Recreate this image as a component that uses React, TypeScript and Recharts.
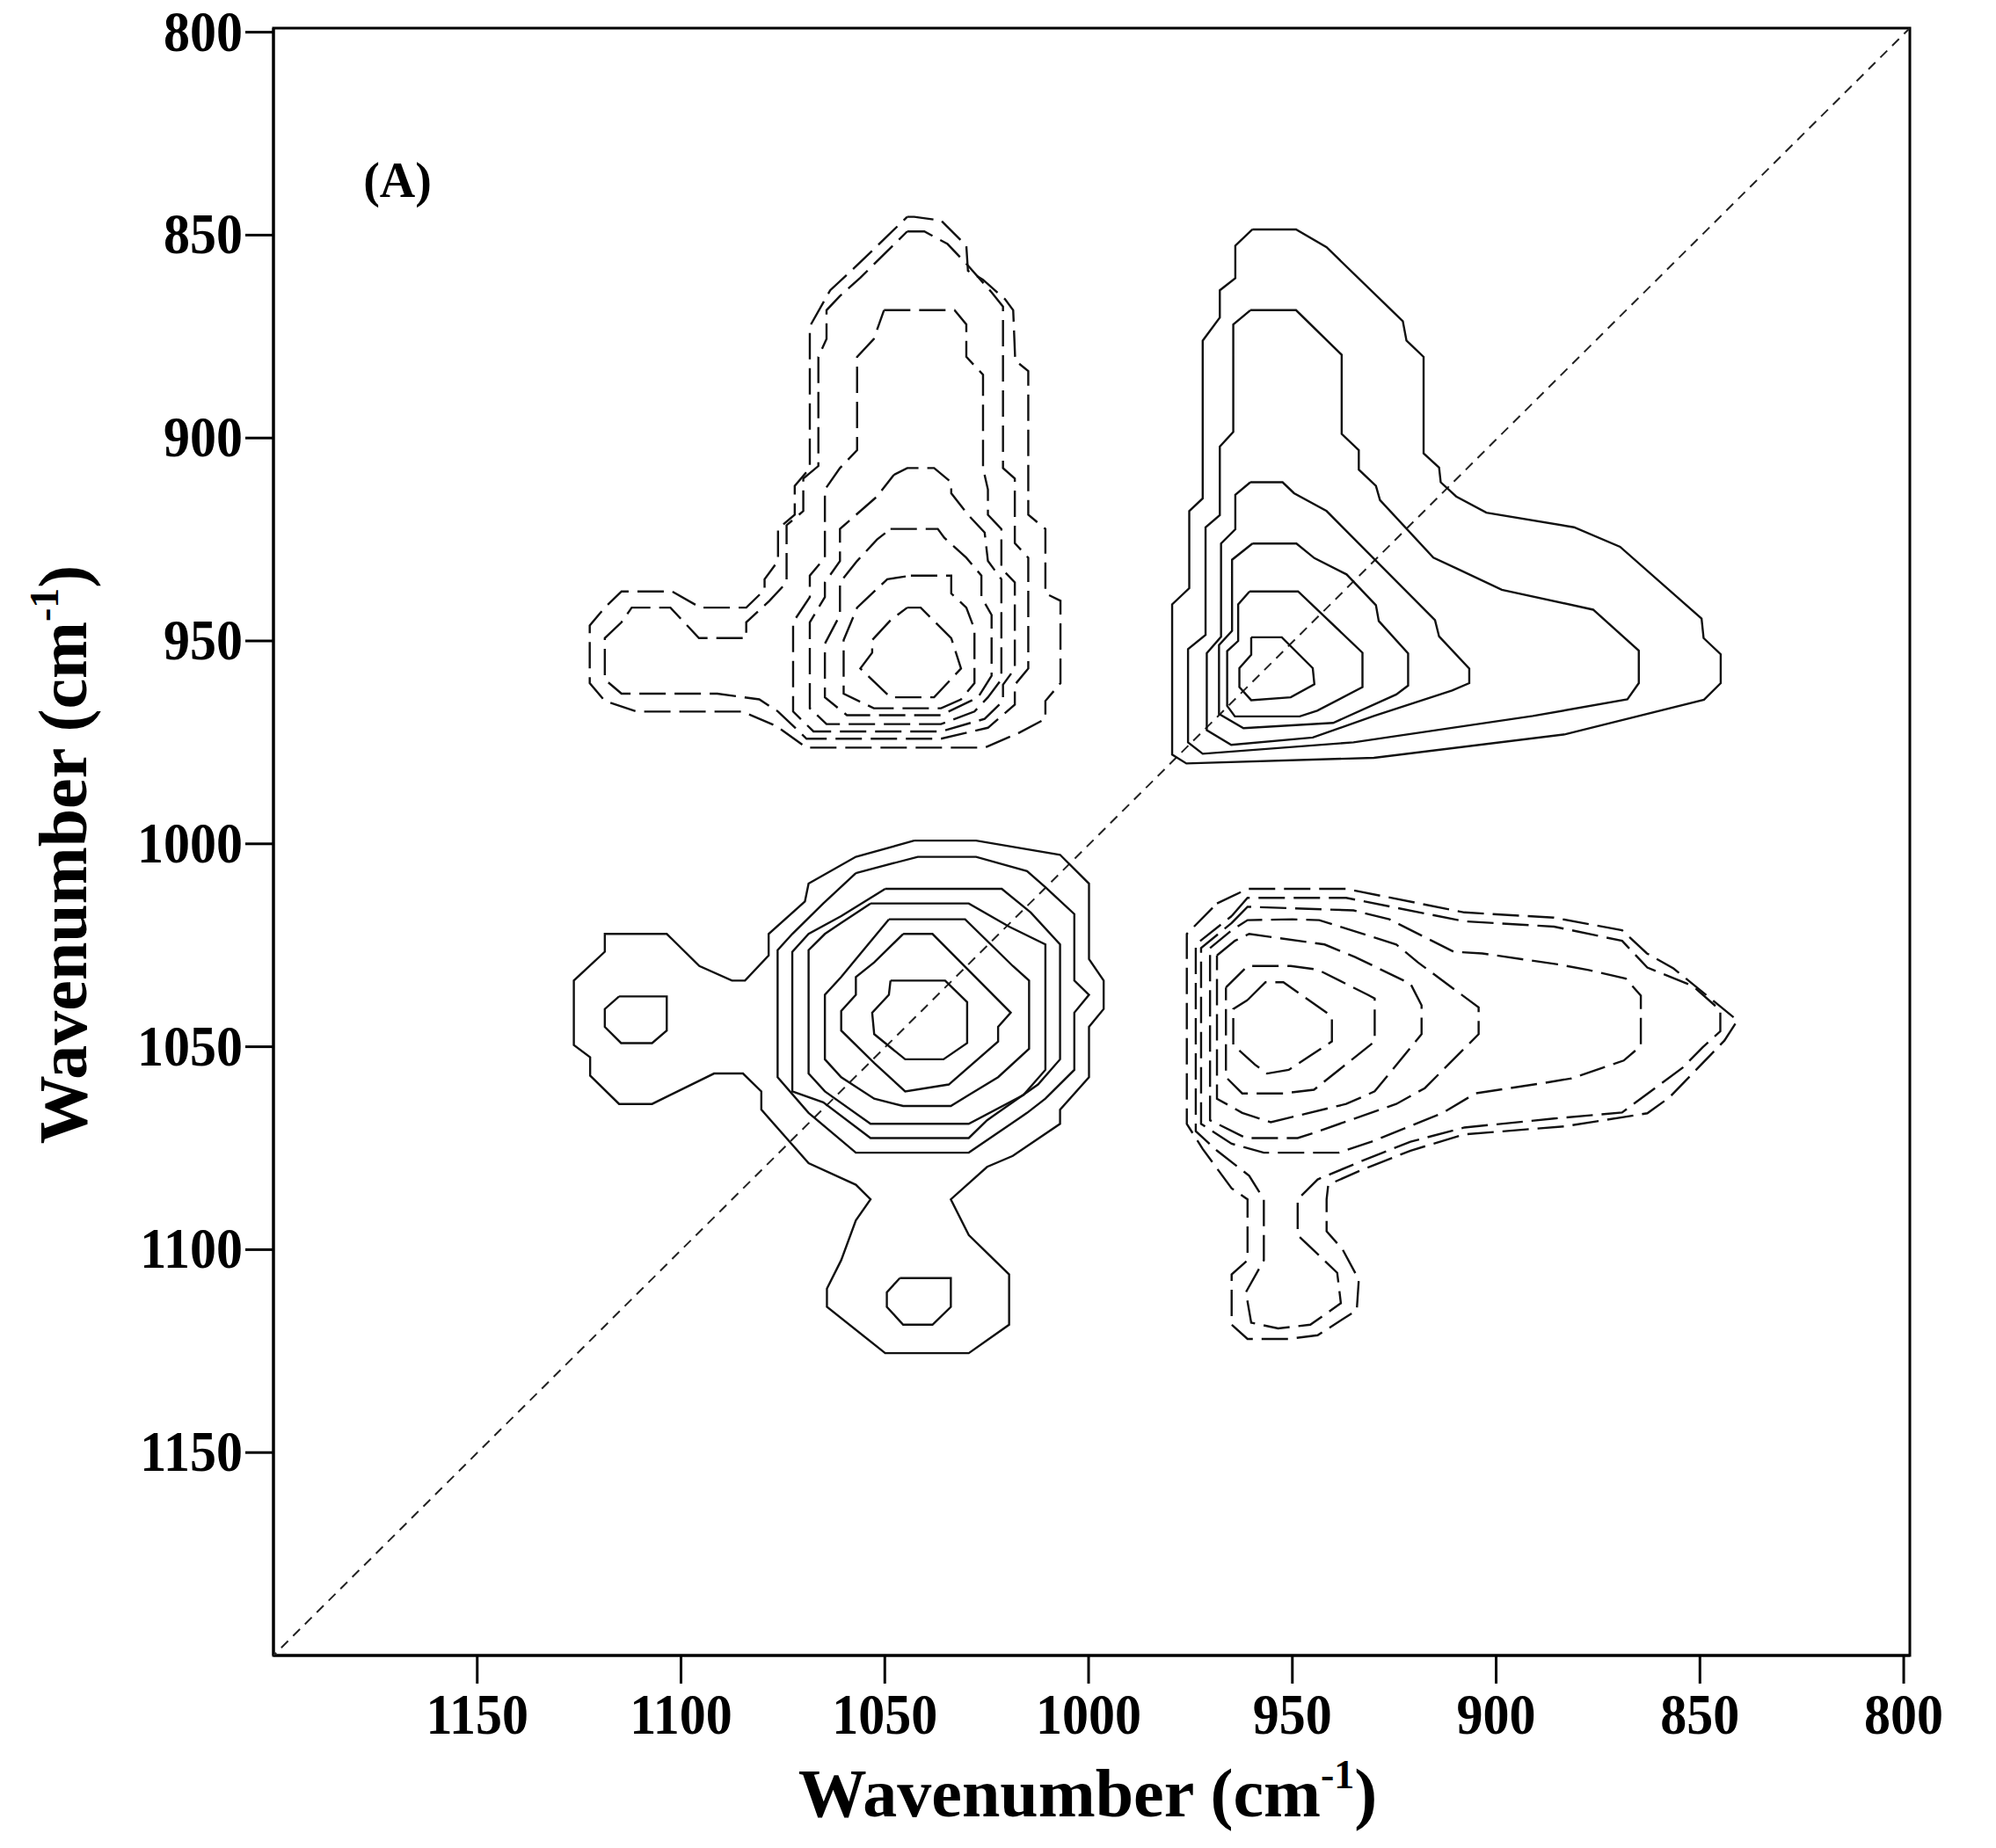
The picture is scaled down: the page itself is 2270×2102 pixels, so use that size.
import React from 'react';
import { ScatterChart, Scatter, XAxis, YAxis, ReferenceArea } from 'recharts';

type P = [number, number];

const serif = "'Liberation Serif', 'Times New Roman', serif";

// axis ticks (wavenumber, cm-1)
const xTicks = [1150, 1100, 1050, 1000, 950, 900, 850, 800];
const yTicks = [800, 850, 900, 950, 1000, 1050, 1100, 1150];

// diagonal from corner to corner
const diagonal: P[] = [[1201, 1201], [798.5, 799]];

// upper left peak (negative, dashed) - outer rings carry the side lobe
const q1r1: P[] = [[1044.5,845.5],[1042.8,845.5],[1036.2,846.4],[1030.0,852.6],[1029.6,858.8],[1025.9,861.0],[1020.5,865.8],[1018.5,868.5],[1018.0,880.9],[1014.8,883.5],[1014.8,918.9],[1010.6,922.4],[1010.6,938.3],[1006.9,940.1],[1006.9,960.4],[1010.6,964.8],[1010.6,969.2],[1017.2,972.7],[1025.5,976.3],[1069.2,976.3],[1076.6,971.0],[1084.9,967.4],[1110.9,967.4],[1118.7,964.8],[1122.4,960.4],[1122.4,946.2],[1118.7,941.8],[1114.6,937.8],[1102.2,937.8],[1095.2,941.8],[1084.0,941.8],[1079.5,937.4],[1079.5,934.8],[1076.2,930.3],[1076.2,922.4],[1072.1,918.9],[1072.1,911.8],[1068.4,907.4],[1068.4,872.5],[1063.4,863.6],[1057.7,858.3]];
const q1r2: P[] = [[1044.5,849.1],[1040.3,849.1],[1034.6,852.2],[1029.6,857.5],[1023.8,864.1],[1021.0,867.6],[1021.0,907.4],[1018.1,910.0],[1018.1,925.9],[1014.8,929.5],[1014.8,956.8],[1018.1,960.8],[1018.1,965.7],[1024.7,971.4],[1036.2,974.1],[1069.2,974.1],[1076.2,967.4],[1080.8,964.4],[1091.1,963.0],[1114.6,963.0],[1118.7,959.5],[1118.7,949.3],[1114.6,945.4],[1112.1,941.8],[1102.6,941.8],[1095.6,949.3],[1084.0,949.3],[1084.0,945.4],[1078.3,940.1],[1074.1,935.6],[1074.1,921.5],[1070.0,918.0],[1070.0,910.0],[1066.3,906.9],[1066.3,880.0],[1064.3,875.6],[1064.3,868.5],[1061.0,865.0],[1056.0,860.5]];
const q1r3: P[] = [[1050.2,868.5],[1032.9,868.5],[1030.0,872.0],[1030.0,880.0],[1025.9,884.4],[1025.9,907.4],[1024.7,912.7],[1024.7,918.9],[1021.4,922.4],[1021.4,932.1],[1018.1,935.6],[1018.1,956.8],[1021.0,960.8],[1021.0,964.8],[1025.5,969.2],[1036.2,972.3],[1067.5,972.3],[1072.5,967.4],[1072.5,945.4],[1068.4,939.2],[1068.4,933.9],[1064.7,929.5],[1064.7,912.7],[1061.0,907.4],[1056.8,903.0],[1056.8,880.0],[1052.7,875.6]];
const q1r4: P[] = [[1047.8,909.1],[1044.5,907.4],[1037.9,907.4],[1033.7,910.9],[1033.7,913.6],[1029.6,918.9],[1025.5,923.3],[1024.7,930.3],[1021.4,934.8],[1021.4,959.5],[1024.7,963.9],[1028.0,967.4],[1036.2,970.5],[1064.3,970.5],[1068.4,966.6],[1068.4,945.4],[1064.7,939.2],[1064.7,935.6],[1061.0,930.3],[1061.0,922.4],[1051.9,914.4]];
const q1r5: P[] = [[1048.6,922.4],[1037.0,922.4],[1035.4,924.6],[1030.0,929.5],[1026.3,933.9],[1026.3,939.2],[1023.8,943.6],[1023.8,958.6],[1027.1,963.9],[1036.2,968.3],[1059.3,968.3],[1064.7,963.9],[1064.7,950.7],[1061.0,943.6],[1061.0,935.6],[1056.8,930.3],[1051.9,925.0]];
const q1r6: P[] = [[1043.6,933.9],[1033.7,933.9],[1033.7,938.3],[1030.0,941.8],[1028.0,947.1],[1028.0,960.4],[1031.3,964.4],[1036.2,966.6],[1052.7,966.6],[1060.1,963.0],[1060.1,949.8],[1056.8,941.8],[1049.4,934.8]];
const q1r7: P[] = [[1044.5,941.8],[1041.2,941.8],[1033.7,949.3],[1031.3,956.8],[1037.9,963.9],[1048.6,963.9],[1056.0,956.8],[1053.1,952.9],[1053.1,949.8],[1048.6,944.9]];

// upper right peak (positive, solid)
const q2r1: P[] = [[959.8,848.6],[949.1,848.6],[941.6,853.0],[922.9,871.2],[922.0,876.0],[917.8,880.0],[917.8,903.8],[914.0,907.3],[913.6,910.9],[909.8,914.4],[902.4,918.4],[880.9,922.0],[869.6,926.8],[849.6,944.5],[849.1,949.3],[844.9,953.3],[844.9,960.4],[849.0,964.5],[883.0,973.0],[930.0,978.8],[976.0,980.2],[979.5,978.0],[979.5,941.0],[975.3,937.0],[975.3,918.0],[972.0,914.9],[972.0,876.0],[967.8,870.3],[967.8,863.6],[964.0,860.6],[964.0,852.6]];
const q2r2: P[] = [[960.3,868.5],[949.1,868.5],[937.9,879.5],[937.9,899.0],[933.7,903.0],[933.7,907.8],[929.5,911.8],[928.5,915.3],[915.4,929.5],[909.8,932.1],[898.6,937.4],[876.2,942.3],[865.0,952.4],[865.0,960.4],[867.8,964.4],[891.0,968.5],[935.0,975.0],[972.0,977.8],[975.6,975.0],[975.6,952.0],[971.3,948.5],[971.3,922.0],[967.8,919.0],[967.8,902.1],[964.5,898.5],[964.5,872.0]];
const q2r3: P[] = [[960.3,910.9],[952.4,910.9],[949.6,913.6],[941.6,918.0],[915.0,944.9],[914.0,948.9],[906.6,956.8],[906.6,960.4],[910.8,962.2],[930.0,968.5],[945.0,973.8],[965.0,975.6],[971.0,972.0],[971.0,953.0],[967.5,949.0],[967.5,926.0],[964.0,922.5],[964.0,914.0]];
const q2r4: P[] = [[959.8,926.0],[949.0,926.0],[944.6,929.6],[936.7,933.6],[929.5,941.2],[928.8,945.1],[921.6,953.1],[921.6,961.0],[924.5,963.2],[940.0,970.2],[962.0,971.5],[968.0,968.0],[968.0,951.0],[964.8,947.5],[964.8,930.0]];
const q2r5: P[] = [[960.5,937.8],[948.6,937.8],[932.8,952.9],[932.8,961.4],[943.9,967.2],[948.2,968.6],[964.1,968.6],[966.0,966.0],[966.0,952.5],[963.3,950.0],[963.3,941.0]];
const q2r6: P[] = [[960.1,949.1],[952.6,949.1],[945.0,956.7],[944.6,960.7],[950.4,963.9],[960.1,964.6],[963.0,961.4],[963.0,956.7],[960.1,953.4]];

// lower left peak (positive, solid) with its two side lobes
const q3r1: P[] = [[1042.8,999.2],[1027.6,999.2],[1007.0,1002.7],[999.9,1009.8],[999.9,1028.4],[996.3,1033.7],[996.3,1040.7],[999.9,1045.1],[999.9,1057.5],[1007.0,1065.5],[1007.0,1069.0],[1018.6,1076.9],[1024.9,1079.6],[1033.8,1087.6],[1029.4,1096.4],[1019.5,1106.1],[1019.5,1118.5],[1029.4,1125.5],[1049.9,1125.5],[1064.2,1114.1],[1064.2,1109.6],[1060.7,1102.6],[1057.1,1092.8],[1053.5,1087.6],[1057.1,1084.0],[1068.7,1078.7],[1080.3,1065.5],[1080.3,1061.0],[1084.8,1056.6],[1091.9,1056.6],[1107.1,1064.1],[1115.2,1064.1],[1122.3,1057.1],[1122.3,1052.6],[1126.3,1049.6],[1126.3,1033.7],[1118.7,1026.6],[1118.7,1022.2],[1103.5,1022.2],[1095.5,1030.1],[1087.5,1033.7],[1084.3,1033.7],[1078.5,1027.5],[1078.5,1022.2],[1069.6,1014.2],[1068.7,1009.8],[1057.1,1003.2]];
const q3r2: P[] = [[1057.1,1007.2],[1041.9,1003.2],[1027.6,1003.2],[1015.1,1006.7],[1010.6,1010.7],[1003.5,1017.3],[1003.5,1033.7],[999.9,1037.2],[1003.5,1041.6],[1003.5,1055.7],[1010.6,1062.8],[1015.1,1066.3],[1029.4,1076.1],[1057.1,1076.1],[1068.7,1066.3],[1076.3,1057.5],[1076.3,1026.2],[1072.7,1022.2],[1065.1,1014.7]];
const q3r3: P[] = [[1049.9,1011.1],[1021.3,1011.1],[1014.2,1016.9],[1007.0,1024.8],[1007.0,1053.1],[1012.4,1059.3],[1024.9,1068.1],[1029.4,1072.5],[1053.5,1072.5],[1065.1,1063.7],[1072.7,1061.0],[1072.7,1026.6],[1068.7,1022.2],[1060.7,1017.8]];
const q3r4: P[] = [[1053.5,1014.7],[1029.4,1014.7],[1019.5,1020.4],[1010.6,1024.8],[1010.6,1055.7],[1016.0,1061.9],[1029.4,1069.0],[1053.5,1069.0],[1064.7,1061.0],[1068.7,1056.6],[1068.7,1026.2],[1064.7,1022.2],[1060.7,1019.5]];
const q3r5: P[] = [[1049.0,1018.6],[1030.3,1018.6],[1018.6,1030.1],[1014.6,1033.7],[1014.6,1050.5],[1022.2,1057.5],[1029.4,1061.9],[1033.8,1064.6],[1045.5,1064.6],[1052.6,1062.8],[1060.7,1057.5],[1064.7,1053.1],[1064.7,1037.2],[1060.7,1032.8],[1057.1,1028.4]];
const q3r6: P[] = [[1045.5,1022.2],[1038.3,1022.2],[1019.1,1041.6],[1022.2,1045.1],[1022.2,1048.7],[1034.3,1059.3],[1045.0,1061.0],[1052.6,1054.0],[1060.7,1046.0],[1060.7,1041.2],[1057.1,1037.2],[1057.1,1032.8],[1052.6,1029.2]];
const q3r7: P[] = [[1048.6,1033.7],[1035.2,1033.7],[1029.8,1039.0],[1029.8,1049.1],[1035.6,1053.1],[1045.0,1053.1],[1052.6,1046.9],[1053.1,1041.6],[1049.0,1037.2]];
const q3lobeLeft: P[] = [[1115.2,1037.6],[1103.5,1037.6],[1103.5,1046.0],[1107.1,1049.1],[1114.7,1049.1],[1118.7,1045.1],[1118.7,1040.7]];
const q3lobeDown: P[] = [[1046.3,1107.0],[1033.8,1107.0],[1033.8,1114.1],[1038.3,1118.5],[1045.5,1118.5],[1049.5,1114.1],[1049.5,1110.5]];

// lower right peak (negative, dashed) - outer rings carry the lower lobe
const q4r1: P[] = [[968.5,1014.7],[961.0,1011.1],[936.8,1011.1],[907.8,1016.9],[885.8,1018.2],[869.1,1021.3],[863.0,1027.0],[856.5,1030.7],[840.8,1043.5],[844.0,1048.5],[857.5,1062.5],[862.9,1066.4],[883.0,1069.6],[907.8,1071.6],[921.0,1075.6],[933.3,1080.5],[941.2,1084.0],[941.6,1087.6],[941.6,1095.5],[937.7,1099.9],[933.7,1107.4],[934.2,1114.9],[943.8,1121.1],[950.9,1122.0],[961.0,1122.0],[964.9,1118.5],[964.9,1106.1],[961.0,1102.6],[961.0,1087.6],[964.9,1084.9],[972.0,1075.2],[975.9,1069.0],[975.9,1022.2]];
const q4r2: P[] = [[964.9,1017.8],[961.0,1013.3],[936.8,1013.3],[907.8,1019.1],[885.8,1020.4],[869.1,1023.9],[862.9,1030.5],[851.8,1035.0],[845.0,1041.0],[845.0,1046.2],[849.3,1050.1],[854.3,1055.2],[869.1,1066.2],[885.8,1067.7],[907.8,1069.9],[921.0,1073.4],[933.3,1078.3],[943.8,1082.7],[948.7,1087.6],[948.7,1096.4],[939.0,1105.7],[938.1,1113.2],[945.6,1118.5],[953.5,1119.4],[960.1,1118.0],[961.4,1110.5],[957.0,1102.6],[957.0,1087.6],[960.6,1081.8],[968.5,1075.6],[973.7,1070.8],[973.7,1024.8]];
const q4r3: P[] = [[964.9,1019.5],[961.0,1015.5],[935.0,1016.4],[926.2,1018.6],[910.4,1026.6],[903.4,1027.0],[884.9,1029.7],[877.3,1031.1],[868.2,1033.2],[864.5,1037.4],[864.5,1049.8],[868.7,1053.4],[881.5,1057.8],[887.5,1058.8],[905.1,1061.5],[913.1,1066.3],[930.6,1073.4],[938.6,1076.1],[957.0,1076.1],[964.9,1073.9],[972.4,1069.0],[972.4,1025.7]];
const q4r4: P[] = [[970.2,1025.7],[964.9,1021.3],[961.0,1018.8],[950.0,1018.6],[943.4,1018.8],[924.5,1024.8],[919.2,1029.2],[904.3,1040.3],[904.3,1046.9],[917.5,1060.2],[924.5,1064.1],[944.7,1071.2],[948.7,1072.5],[961.4,1072.5],[970.2,1068.1]];
const q4r5: P[] = [[968.5,1027.5],[964.1,1023.9],[960.6,1022.2],[942.1,1024.8],[934.6,1027.9],[921.0,1034.5],[918.3,1039.8],[918.3,1046.9],[929.8,1061.0],[936.8,1064.1],[955.3,1068.6],[962.3,1066.3],[968.5,1062.8]];
const q4r6: P[] = [[966.3,1035.4],[961.0,1030.1],[950.4,1030.1],[943.8,1031.0],[931.5,1037.2],[929.8,1038.1],[929.8,1048.7],[944.7,1060.6],[952.2,1061.5],[962.3,1061.5],[966.3,1057.5]];
const q4r7: P[] = [[961.0,1038.5],[956.6,1034.1],[952.2,1034.1],[940.3,1042.5],[940.3,1048.7],[945.6,1052.2],[950.9,1055.7],[956.2,1056.6],[959.2,1054.4],[964.5,1049.6],[964.5,1040.7]];

const solidRings = [q2r1, q2r2, q2r3, q2r4, q2r5, q2r6, q3r1, q3r2, q3r3, q3r4, q3r5, q3r6, q3r7, q3lobeLeft, q3lobeDown];
const dashedRings = [q1r1, q1r2, q1r3, q1r4, q1r5, q1r6, q1r7, q4r1, q4r2, q4r3, q4r4, q4r5, q4r6, q4r7];

// close a ring and turn it into scatter points
const closed = (ring: P[]) => [...ring, ring[0]].map(([x, y]) => ({ x, y }));
const open = (pts: P[]) => pts.map(([x, y]) => ({ x, y }));

const noDot = () => <g />;

const XTick = (props: any) => {
  const { x, payload } = props;
  return (
    <text
      transform={`translate(${x},1972) scale(1,1.08)`}
      textAnchor="middle"
      fontFamily={serif}
      fontWeight="bold"
      fontSize={60}
      fill="#000"
    >
      {payload.value}
    </text>
  );
};

const YTick = (props: any) => {
  const { y, payload } = props;
  return (
    <text
      transform={`translate(276,${y + 21}) scale(1,1.08)`}
      textAnchor="end"
      fontFamily={serif}
      fontWeight="bold"
      fontSize={60}
      fill="#000"
    >
      {payload.value}
    </text>
  );
};

const XTitle = () => (
  <text x={1237} y={2066} textAnchor="middle" fontFamily={serif} fontWeight="bold" fontSize={78} fill="#000">
    Wavenumber (cm<tspan dy={-32} fontSize={46}>-1</tspan>
    <tspan dy={32}>)</tspan>
  </text>
);

const YTitle = () => (
  <g>
    <text
      x={98}
      y={972}
      transform="rotate(-90, 98, 972)"
      textAnchor="middle"
      fontFamily={serif}
      fontWeight="bold"
      fontSize={78}
      fill="#000"
    >
      Wavenumber (cm<tspan dy={-32} fontSize={46}>-1</tspan>
      <tspan dy={32}>)</tspan>
    </text>
    <text x={452} y={224} textAnchor="middle" fontFamily={serif} fontWeight="bold" fontSize={56} fill="#000">
      (A)
    </text>
  </g>
);

export default function App() {
  return (
    <div style={{ position: 'absolute', left: 0, top: 0, width: 2270, height: 2102, background: '#fff' }}>
      <ScatterChart width={2270} height={2102} margin={{ top: 32, right: 98, bottom: 0, left: 0 }}>
        <XAxis
          type="number"
          dataKey="x"
          domain={[798.5, 1200]}
          reversed
          allowDataOverflow
          ticks={xTicks}
          interval={0}
          height={219}
          tickSize={32}
          tick={<XTick />}
          axisLine={{ stroke: '#000', strokeWidth: 3 }}
          tickLine={{ stroke: '#000', strokeWidth: 3 }}
          label={<XTitle />}
        />
        <YAxis
          type="number"
          dataKey="y"
          domain={[799, 1200]}
          reversed
          allowDataOverflow
          ticks={yTicks}
          interval={0}
          width={311}
          tickSize={32}
          tick={<YTick />}
          axisLine={{ stroke: '#000', strokeWidth: 3 }}
          tickLine={{ stroke: '#000', strokeWidth: 3 }}
          label={<YTitle />}
        />
        <ReferenceArea x1={798.5} x2={1200} y1={799} y2={1200} fill="none" stroke="#000" strokeWidth={3} />
        <Scatter
          data={open(diagonal)}
          line={{ stroke: '#222', strokeWidth: 2, strokeDasharray: '11 8' }}
          shape={noDot}
          isAnimationActive={false}
        />
        {solidRings.map((ring, i) => (
          <Scatter
            key={`s${i}`}
            data={closed(ring)}
            line={{ stroke: '#111', strokeWidth: 2.4 }}
            shape={noDot}
            isAnimationActive={false}
          />
        ))}
        {dashedRings.map((ring, i) => (
          <Scatter
            key={`d${i}`}
            data={closed(ring)}
            line={{ stroke: '#111', strokeWidth: 2.4, strokeDasharray: '30 10' }}
            shape={noDot}
            isAnimationActive={false}
          />
        ))}
      </ScatterChart>
    </div>
  );
}
